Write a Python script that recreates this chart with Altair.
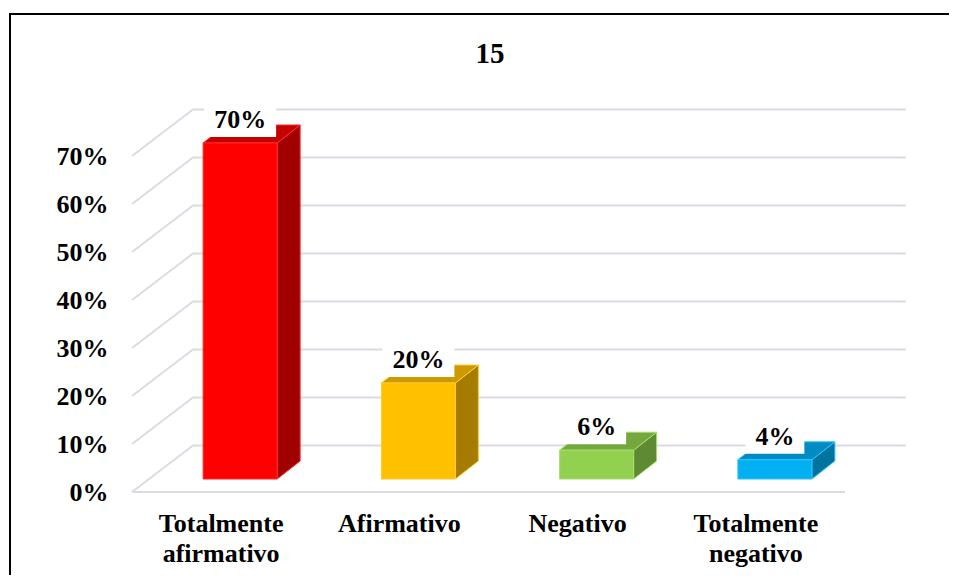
import altair as alt
import pandas as pd

# ---------------- data ----------------
categories = ["Totalmente afirmativo", "Afirmativo", "Negativo", "Totalmente negativo"]
values = [70, 20, 6, 4]
y_ticks = [0, 10, 20, 30, 40, 50, 60, 70]
title_text = "15"

# ---------------- styles ----------------
front_colors = ["#FF0000", "#FFC000", "#92D050", "#00B0F0"]
top_colors = ["#C40000", "#CC9A00", "#74A83F", "#008CC2"]
side_colors = ["#A00000", "#A67C00", "#5E8A33", "#00739F"]
edge_colors = ["#FF2A2A", "#FFCB30", "#A4DC6A", "#2EC2FF"]
grid_color = "#D9DBE2"
FONT = "'Liberation Serif', 'Times New Roman', Times, serif"

# ---------------- geometry (pixel -> data units) ----------------
W, H = 777, 384
PXX = 178.25              # px per category slot
PXY = H / 80.0            # px per percent
X_DOMAIN = [0, W / PXX]
Y_DOMAIN = [0, 80]


def ux(px):
    return px / PXX


def uy(px):
    return px / PXY


WDX, WDY = ux(61), uy(46.5)      # depth of the wall
BX0, BY0 = ux(19), uy(13)        # bar front-face depth offset
HW = ux(37)                      # bar half width
SDX, SDY = ux(23), uy(18)        # bar depth

n = len(categories)

front_rows, side_rows, top_rows, box_rows, lab_rows, xlab_rows = [], [], [], [], [], []
for i, (cat, v) in enumerate(zip(categories, values)):
    c = i + 0.5 + BX0
    xl, xr = c - HW, c + HW
    yb, yt = BY0, v + BY0
    front_rows.append(dict(cat=cat, x=xl, x2=xr, y=yb, y2=yt,
                           fill=front_colors[i], edge=edge_colors[i]))
    side_rows += [
        dict(cat=cat, x=xr, y=yb, y2=yt, fill=side_colors[i], edge=edge_colors[i]),
        dict(cat=cat, x=xr + SDX, y=yb + SDY, y2=yt + SDY, fill=side_colors[i], edge=edge_colors[i]),
    ]
    top_rows += [
        dict(cat=cat, x=xl, y=yt, y2=yt, fill=top_colors[i], edge=edge_colors[i]),
        dict(cat=cat, x=xl + SDX, y=yt, y2=yt + SDY, fill=top_colors[i], edge=edge_colors[i]),
        dict(cat=cat, x=xr, y=yt, y2=yt + SDY, fill=top_colors[i], edge=edge_colors[i]),
        dict(cat=cat, x=xr + SDX, y=yt + SDY, y2=yt + SDY, fill=top_colors[i], edge=edge_colors[i]),
    ]
    label = f"{v}%"
    tw = sum(26 if ch == "%" else 13 for ch in label)
    hw = ux(tw / 2 + 10)
    box_rows.append(dict(x=c - hw, x2=c + hw, y=yt + uy(6), y2=yt + uy(38)))
    lab_rows.append(dict(x=c, y=yt, text=label))
    xlab_rows.append(dict(x=i + 0.5, y=0, text=cat.replace(" ", "\n")))

grid_rows = []
for t in y_ticks:
    grid_rows.append(dict(x=WDX, x2=n + WDX, y=t + WDY, y2=t + WDY))   # back wall
    grid_rows.append(dict(x=0, x2=WDX, y=t, y2=t + WDY))               # side wall
grid_rows.append(dict(x=0, x2=n, y=0, y2=0))                           # floor front edge

xs = alt.Scale(domain=X_DOMAIN, nice=False, zero=False)
ys = alt.Scale(domain=Y_DOMAIN, nice=False, zero=False)
yaxis = alt.Axis(
    values=y_ticks, labelExpr="datum.value + '%'", domain=False, ticks=False, grid=False,
    title=None, labelFont=FONT, labelFontSize=26, labelFontWeight="bold", labelColor="black",
    labelPadding=24, labelFlush=False, labelOverlap=False)


def X(f):
    return alt.X(f, scale=xs, axis=None)


def Y(f):
    return alt.Y(f, scale=ys, axis=yaxis)


grid = alt.Chart(pd.DataFrame(grid_rows)).mark_rule(color=grid_color, strokeWidth=1.8).encode(
    x=X("x:Q"), x2="x2:Q", y=Y("y:Q"), y2="y2:Q",
)

side = alt.Chart(pd.DataFrame(side_rows)).mark_area(strokeWidth=1).encode(
    x=X("x:Q"), y=Y("y:Q"), y2="y2:Q",
    fill=alt.Fill("fill:N", scale=None),
    stroke=alt.Stroke("edge:N", scale=None),
    detail="cat:N",
)

top = alt.Chart(pd.DataFrame(top_rows)).mark_area(strokeWidth=1).encode(
    x=X("x:Q"), y=Y("y:Q"), y2="y2:Q",
    fill=alt.Fill("fill:N", scale=None),
    stroke=alt.Stroke("edge:N", scale=None),
    detail="cat:N",
)

front = alt.Chart(pd.DataFrame(front_rows)).mark_rect(strokeWidth=1).encode(
    x=X("x:Q"), x2="x2:Q", y=Y("y:Q"), y2="y2:Q",
    fill=alt.Fill("fill:N", scale=None),
    stroke=alt.Stroke("edge:N", scale=None),
)

boxes = alt.Chart(pd.DataFrame(box_rows)).mark_rect(color="white").encode(
    x=X("x:Q"), x2="x2:Q", y=Y("y:Q"), y2="y2:Q",
)

labels = alt.Chart(pd.DataFrame(lab_rows)).mark_text(
    font=FONT, fontSize=26, fontWeight="bold", color="black",
    baseline="alphabetic", align="center", dy=-15,
).encode(x=X("x:Q"), y=Y("y:Q"), text="text:N")

xlabels = alt.Chart(pd.DataFrame(xlab_rows)).mark_text(
    font=FONT, fontSize=26, fontWeight="bold", color="black",
    baseline="alphabetic", align="center", dy=40, lineBreak="\n", lineHeight=30,
).encode(x=X("x:Q"), y=Y("y:Q"), text="text:N")

one = pd.DataFrame({"k": [0]})
title = alt.Chart(one).mark_text(
    font=FONT, fontSize=29, fontWeight="bold", color="black",
    baseline="alphabetic", align="center",
).encode(x=alt.value(358), y=alt.value(-45), text=alt.value(title_text))

border_left = alt.Chart(one).mark_rule(color="black", strokeWidth=2).encode(
    x=alt.value(-122), y=alt.value(-95), y2=alt.value(700))
border_top = alt.Chart(one).mark_rule(color="black", strokeWidth=2).encode(
    x=alt.value(-123), x2=alt.value(1000), y=alt.value(-94))

chart = alt.layer(
    grid, side, top, front, boxes, labels, xlabels, title, border_left, border_top
).properties(
    width=W, height=H,
    padding={"left": 124, "top": 100, "right": 40, "bottom": 83},
    autosize=alt.AutoSizeParams(type="none"),
).configure_view(stroke=None)

chart.save("out.html", embed_options={"renderer": "svg", "actions": False})
